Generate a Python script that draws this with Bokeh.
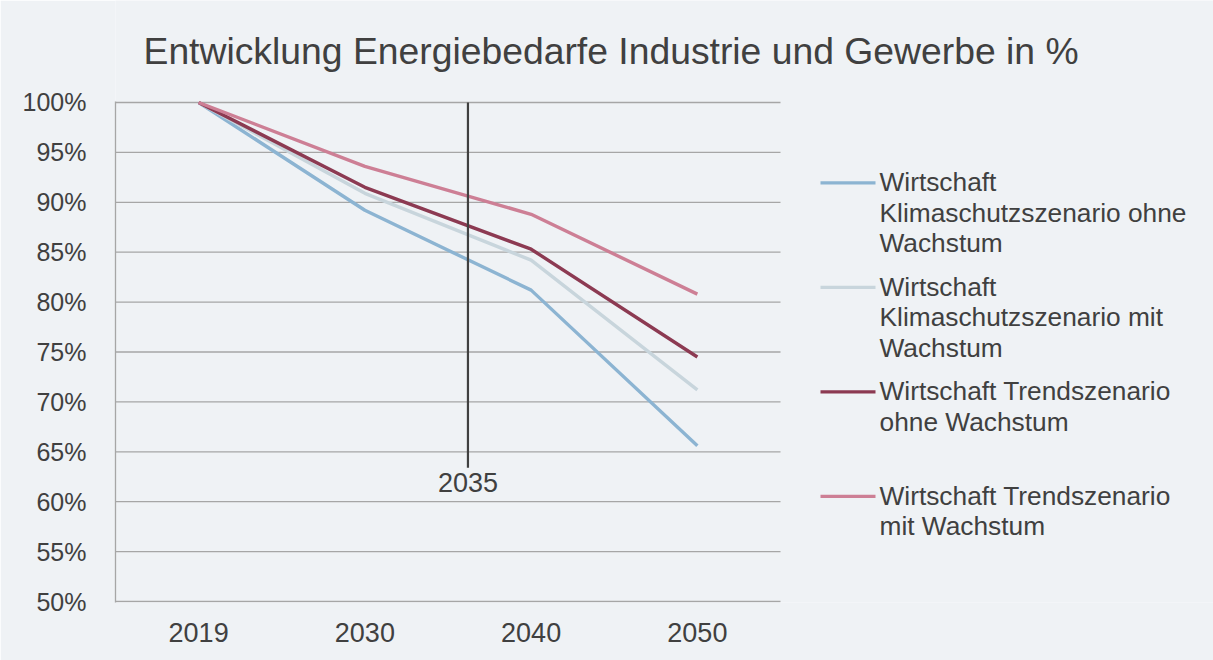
from bokeh.plotting import figure
from bokeh.models import Range1d, FixedTicker, Label, BoxAnnotation
from bokeh.embed import file_html
from bokeh.resources import INLINE

# ---------------- data ----------------
years = ["2019", "2030", "2040", "2050"]
klima_ohne = [100.0, 89.2, 81.2, 65.6]
klima_mit = [100.0, 90.9, 84.2, 71.2]
trend_ohne = [100.0, 91.5, 85.3, 74.5]
trend_mit = [100.0, 93.6, 88.8, 80.8]
series_labels = [
    "Wirtschaft\nKlimaschutzszenario ohne\nWachstum",
    "Wirtschaft\nKlimaschutzszenario mit\nWachstum",
    "Wirtschaft Trendszenario\nohne Wachstum",
    "Wirtschaft Trendszenario\nmit Wachstum",
]
y_ticks = [50, 55, 60, 65, 70, 75, 80, 85, 90, 95, 100]
y_tick_labels = ["50%", "55%", "60%", "65%", "70%", "75%", "80%", "85%", "90%", "95%", "100%"]
title_text = "Entwicklung Energiebedarfe Industrie und Gewerbe in %"
marker_text = "2035"
marker_top = 100.0
marker_bottom = 63.4

# ---------------- styles ----------------
FONT = "Liberation Sans"
TXT = "#404040"
BG = "#eff2f5"
GRID = "#a6a6a6"
colors = ["#8cb4d2", "#c8d5dc", "#8c3a52", "#cd7f95"]
series = [klima_ohne, klima_mit, trend_ohne, trend_mit]

W, H = 1213, 660
FL, PR, PT, FB = 115, 780, 101, 602  # plot-area edges (px)
y_lo, y_hi = 49.9, 100.1             # value range of the plot area

n = len(years)
xs = [i + 0.5 for i in range(n)]
marker_x = 2.12  # position between 2030 and 2040 categories
# the frame covers the whole canvas right of / above the plot area so that
# title and legend (drawn inside it) are not clipped
x_end = n * (W - FL) / (PR - FL)
y_end = y_hi + PT * (y_hi - y_lo) / (FB - PT)

p = figure(width=W, height=H, output_backend="svg", toolbar_location=None,
           x_range=Range1d(0, x_end), y_range=Range1d(y_lo, y_end),
           min_border_left=FL, min_border_right=0, min_border_top=0,
           min_border_bottom=H - FB)
p.background_fill_color = BG
p.border_fill_color = BG
p.outline_line_color = None

# axes
p.xaxis.ticker = FixedTicker(ticks=xs)
p.xaxis.major_label_overrides = {x: y for x, y in zip(xs, years)}
p.xaxis.axis_line_color = None
p.xaxis.major_tick_line_color = None
p.xaxis.minor_tick_line_color = None
p.xaxis.major_label_standoff = 14
p.xaxis.major_label_text_font = FONT
p.xaxis.major_label_text_font_size = "27px"
p.xaxis.major_label_text_color = TXT

p.yaxis.ticker = FixedTicker(ticks=y_ticks)
p.yaxis.bounds = (y_lo, y_hi)
p.yaxis.major_label_overrides = {t: l for t, l in zip(y_ticks, y_tick_labels)}
p.yaxis.axis_line_color = GRID
p.yaxis.axis_line_width = 1.3
p.yaxis.major_tick_line_color = None
p.yaxis.minor_tick_line_color = None
p.yaxis.major_label_standoff = 23
p.yaxis.major_label_text_font = FONT
p.yaxis.major_label_text_font_size = "25px"
p.yaxis.major_label_text_color = TXT

# horizontal gridlines limited to the plot area
p.xgrid.visible = False
p.ygrid.visible = False
p.segment(x0=[0] * len(y_ticks), y0=y_ticks, x1=[n] * len(y_ticks), y1=y_ticks,
          line_color=GRID, line_width=1.3)

# data lines
for vals, col in zip(series, colors):
    p.line(xs, vals, line_color=col, line_width=3.4)

# 2035 marker
p.segment(x0=[marker_x], y0=[marker_top], x1=[marker_x], y1=[marker_bottom],
          line_color=TXT, line_width=2.2)
p.add_layout(Label(x=marker_x, y=marker_bottom, y_offset=-5, text=marker_text,
                   text_align="center", text_baseline="top", text_font=FONT,
                   text_font_size="27px", text_color=TXT))

# title (screen px relative to the frame's bottom-left corner)
p.add_layout(Label(x=143 - FL, y=FB - 29, x_units="screen", y_units="screen",
                   text=title_text, text_align="left", text_baseline="top",
                   text_font=FONT, text_font_size="37.3px", text_color=TXT))

# legend (drawn manually, positions relative to frame in screen px)
for i, (lab, col) in enumerate(zip(series_labels, colors)):
    ly = 182.3 + 104.5 * i
    p.add_layout(BoxAnnotation(left=820 - FL, right=875 - FL,
                               top=FB - (ly - 1.6), bottom=FB - (ly + 1.6),
                               left_units="screen", right_units="screen",
                               top_units="screen", bottom_units="screen",
                               fill_color=col, fill_alpha=1, line_color=None))
    for j, line in enumerate(lab.split("\n")):
        by = 181.5 + 104.5 * i + 30.5 * j
        p.add_layout(Label(x=879 - FL, y=FB - by, x_units="screen",
                           y_units="screen", text=line, text_align="left",
                           text_baseline="alphabetic", text_font=FONT,
                           text_font_size="26.3px", text_color=TXT))

open("out.html", "w").write(file_html(p, INLINE))
